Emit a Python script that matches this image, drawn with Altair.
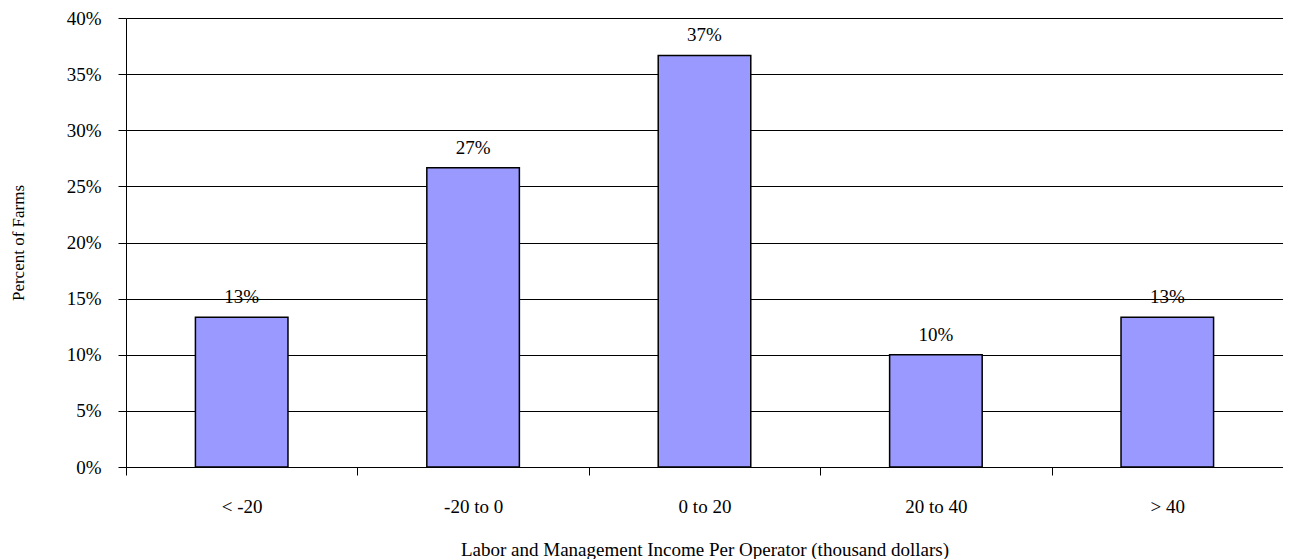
import altair as alt
import pandas as pd

categories = ["< -20", "-20 to 0", "0 to 20", "20 to 40", "> 40"]
values = [0.1333, 0.2667, 0.3667, 0.10, 0.1333]
labels = ["13%", "27%", "37%", "10%", "13%"]

df = pd.DataFrame({"cat": categories, "val": values, "lab": labels})

FONT = "Times New Roman, Liberation Serif, serif"

x = alt.X("cat:N", sort=categories,
          scale=alt.Scale(paddingInner=0, paddingOuter=0),
          axis=alt.Axis(title="Labor and Management Income Per Operator (thousand dollars)",
                        labelAngle=0, tickBand="extent", tickSize=8, tickColor="black",
                        domainColor="black", labelPadding=22, titlePadding=24,
                        labelFont=FONT, labelFontSize=19, labelColor="black",
                        titleFont=FONT, titleFontSize=19, titleFontWeight="normal",
                        titleColor="black", grid=False))
y = alt.Y("val:Q", scale=alt.Scale(domain=[0, 0.4]),
          axis=alt.Axis(title="Percent of Farms", format=".0%", values=[i * 0.05 for i in range(9)],
                        tickSize=8, tickColor="black", domainColor="black",
                        gridColor="black", gridWidth=1, labelPadding=17, titlePadding=39,
                        labelFont=FONT, labelFontSize=19, labelColor="black",
                        titleFont=FONT, titleFontSize=17, titleFontWeight="normal",
                        titleColor="black"))

bars = alt.Chart(df).mark_bar(color="#9999FF", stroke="black", strokeWidth=1.5,
                              width=alt.RelativeBandSize(0.4)).encode(x=x, y=y)
text = alt.Chart(df).mark_text(dy=-20, font=FONT, fontSize=19, color="black").encode(
    x=alt.X("cat:N", sort=categories), y="val:Q", text="lab:N")

chart = (bars + text).properties(
    width=1157, height=449,
    autosize=alt.AutoSizeParams(type="none"),
    padding={"left": 118, "top": 10, "right": 0, "bottom": 92},
).configure_view(stroke=None)

chart.save("out.html", embed_options={"renderer": "svg", "actions": False})
